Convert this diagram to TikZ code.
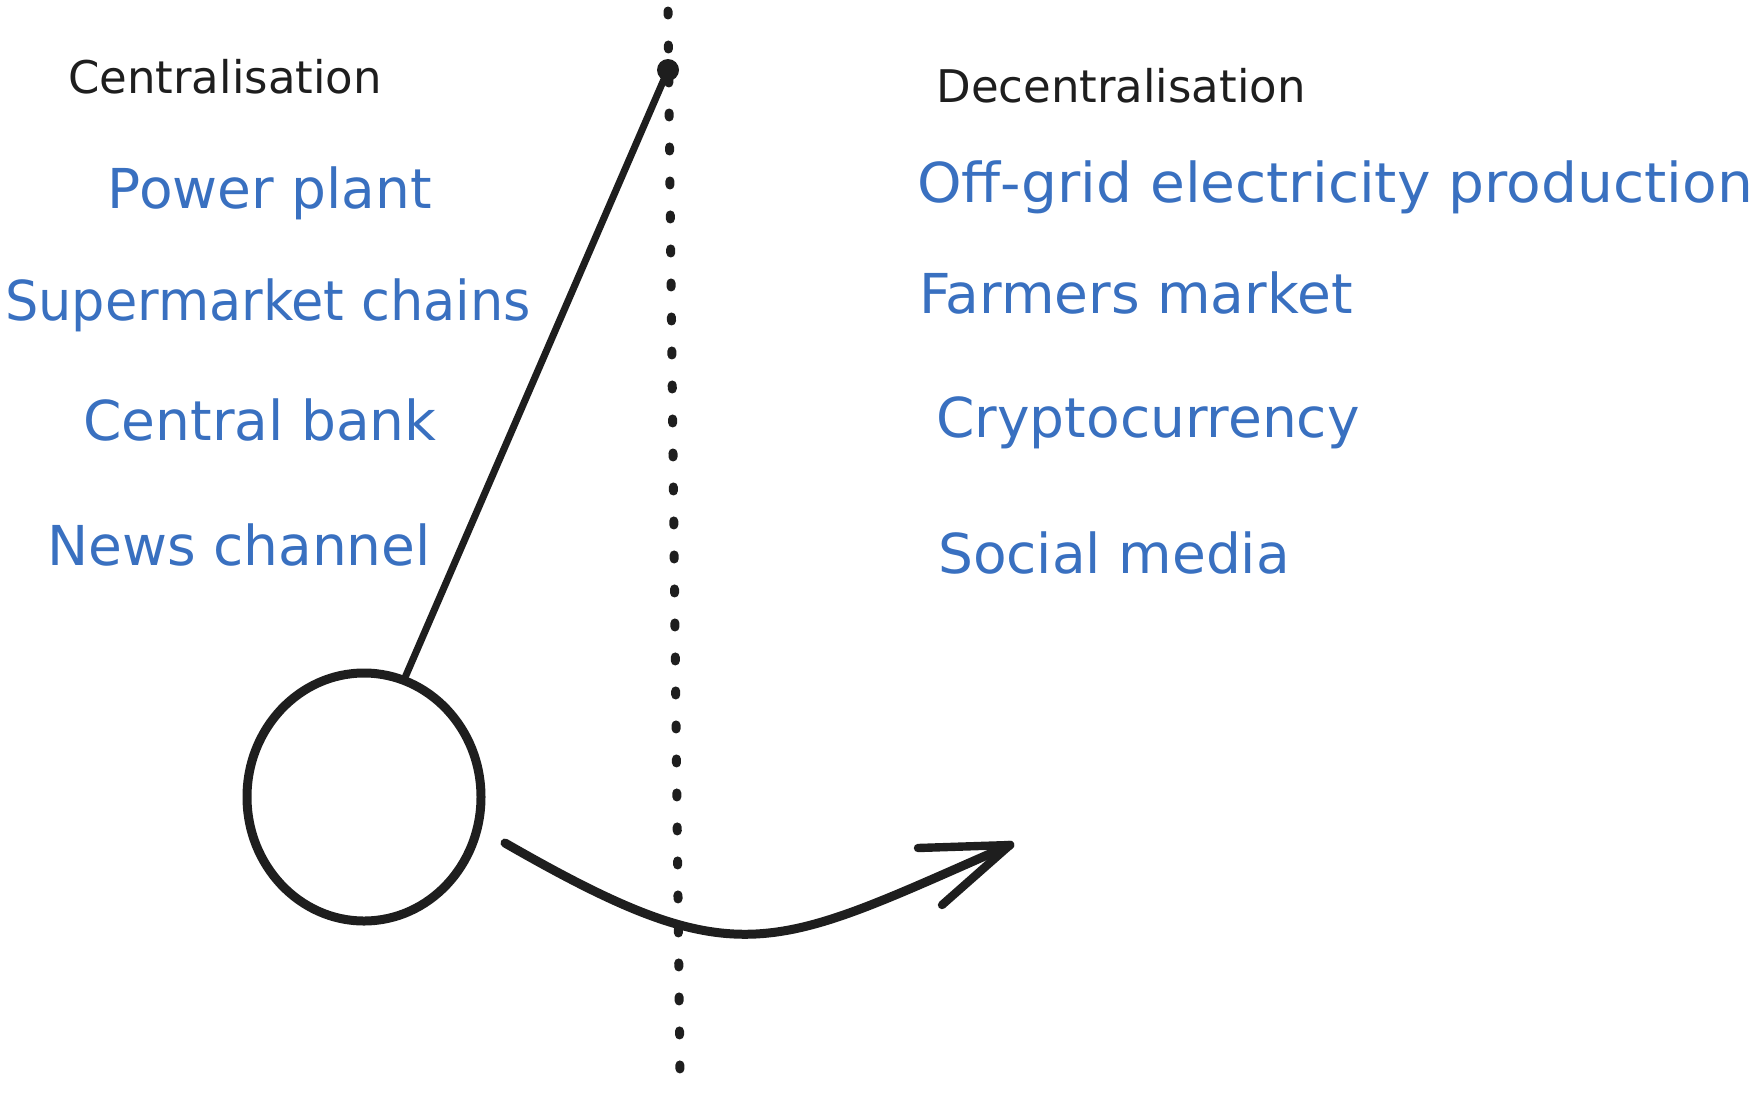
\documentclass[tikz,border=0pt]{standalone}
\usepackage{fontspec}
\setmainfont{DejaVu Sans}
\usetikzlibrary{shapes.geometric}
\definecolor{ink}{HTML}{1E1E1E}
\definecolor{bluetxt}{HTML}{3970C0}
\begin{document}
\begin{tikzpicture}[x=0.5pt,y=-0.5pt,
  head/.style={inner sep=0pt,anchor=base,text=ink,font=\fontsize{22.5}{27}\selectfont},
  item/.style={inner sep=0pt,anchor=base,text=bluetxt,font=\fontsize{27.5}{33}\selectfont},
  stroke/.style={draw=ink,line cap=round,line join=round},
  dotline/.style={draw=ink,line width=4.5pt,line cap=round,dash pattern=on 2pt off 15pt}]
\useasboundingbox (0,0) rectangle (1760,1092);

% headings
\node[head] (central) at (225,93) {Centralisation};
\node[head] (decentral) at (1121,102) {Decentralisation};

% left items
\node[item] (power) at (270,208) {Power plant};
\node[item] (super) at (268,320) {\scalebox{0.955}[1]{Supermarket chains}};
\node[item] (cbank) at (260,440) {Central bank};
\node[item] (news) at (239,565) {News channel};

% right items
\node[item] (offgrid) at (1335,202) {\scalebox{1.03}[1]{Off-grid electricity production}};
\node[item] (farmers) at (1136,313) {Farmers market};
\node[item] (crypto) at (1148,437) {Cryptocurrency};
\node[item] (social) at (1114,573) {Social media};

% dotted vertical axis
\coordinate (dtop) at (668,11);
\coordinate (dbot) at (680,1075);
\draw[dotline] (dtop) -- (dbot);

% pendulum
\node[circle,fill=ink,inner sep=0pt,minimum size=11pt] (pivot) at (668,70) {};
\node[ellipse,draw=ink,line width=4.5pt,inner sep=0pt,minimum width=117pt,minimum height=124pt] (bob) at (364,797) {};
\draw[stroke,line width=3.5pt] (pivot.center) -- (bob.71);

% swing arrow
\coordinate (astart) at (505,843);
\coordinate (atip) at (1010,845);
\coordinate (aup) at (918,848);
\coordinate (alow) at (942,905);
\draw[stroke,line width=4.5pt] (astart) .. controls (740,978) and (770,950) .. (atip);
\draw[stroke,line width=4.2pt] (aup) -- (atip) -- (alow);
\end{tikzpicture}
\end{document}
